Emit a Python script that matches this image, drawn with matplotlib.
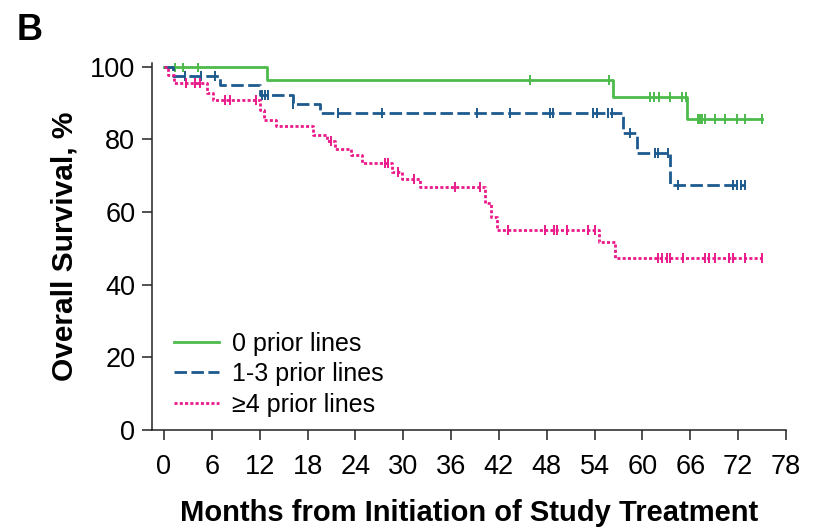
import matplotlib
matplotlib.use("Agg")
import matplotlib.pyplot as plt
import numpy as np

plt.rcParams['font.family'] = ['Liberation Sans', 'DejaVu Sans']

# ---- data (months, overall survival %) ----
g_times = [0, 12.9, 56.3, 65.6, 75.0]
g_surv = [100, 96.2, 91.7, 85.6, 85.6]
g_cens = [1.4, 2.4, 4.3, 45.9, 55.8, 60.9, 61.5, 62.1, 63.5, 65.0, 65.4,
          67.0, 67.2, 67.5, 67.8, 69.1, 70.3, 71.8, 72.9, 75.0]

b_times = [0, 1.1, 7.0, 12.0, 16.2, 19.6, 57.5, 59.3, 63.5, 72.8]
b_surv = [100, 97.4, 94.9, 92.2, 89.6, 87.2, 81.7, 76.2, 67.4, 67.4]
b_cens = [2.6, 4.7, 6.4, 12.3, 12.7, 13.1, 16.2, 21.8, 27.3, 39.2, 43.4,
          48.4, 48.8, 53.8, 54.3, 55.7, 56.2, 58.5, 61.6, 61.9, 63.2, 64.4,
          71.4, 71.8, 72.3, 72.8]

p_times = [0, 0.5, 1.3, 5.4, 6.2, 12.0, 12.5, 14.1, 18.7, 20.4, 21.5, 23.5,
           24.8, 28.6, 29.8, 32.1, 40.2, 41.0, 41.7, 54.5, 56.6, 75.0]
p_surv = [100, 97.7, 95.4, 92.8, 90.8, 88.1, 85.3, 83.6, 81.3, 79.4, 77.3,
          75.6, 73.4, 71.1, 69.2, 67.0, 62.5, 58.6, 55.0, 51.7, 47.3, 47.3]
p_cens = [2.8, 3.9, 4.5, 7.7, 8.3, 11.6, 20.9, 27.7, 28.1, 29.4, 31.3, 36.5,
          39.6, 43.2, 47.8, 48.9, 49.3, 50.6, 53.2, 54.1, 61.9, 62.5, 63.1,
          63.5, 65.1, 67.9, 68.3, 69.1, 70.8, 71.3, 72.9, 75.0]

labels = ['0 prior lines', '1-3 prior lines', '\u22654 prior lines']
x_ticks = list(range(0, 79, 6))
y_ticks = [0, 20, 40, 60, 80, 100]

colors = ['#4cbb4c', '#1d5a8e', '#ea1a8a']
styles = ['-', (0, (4.5, 1.6)), (0, (1.1, 0.8))]

fig = plt.figure(figsize=(8.15, 5.29), dpi=100)
ax = fig.add_axes([0.1865, 0.1871, 0.7779, 0.6938])


def step_val(times, surv, t):
    idx = np.searchsorted(times, t, side='right') - 1
    return np.asarray(surv)[idx]


groups = [(g_times, g_surv, g_cens), (b_times, b_surv, b_cens),
          (p_times, p_surv, p_cens)]
handles = []
for (t, s, c), col, ls, lab in zip(groups, colors, styles, labels):
    h, = ax.step(t, s, where='post', color=col, lw=2.0, linestyle=ls,
                 label=lab)
    handles.append(h)
    cy = step_val(t, s, np.array(c))
    ax.plot(c, cy, linestyle='none', marker='|', markersize=7.5,
            markeredgewidth=1.4, color=col)

ax.set_xlim(-1.5, 78)
ax.set_ylim(0, 101)
ax.set_xticks(x_ticks)
ax.set_yticks(y_ticks)
ax.spines['top'].set_visible(False)
ax.spines['right'].set_visible(False)
for sp in ['left', 'bottom']:
    ax.spines[sp].set_linewidth(1.1)
    ax.spines[sp].set_color('#222222')
ax.tick_params(axis='both', direction='out', length=7, width=1.1,
               color='#222222', labelsize=19.5)
ax.tick_params(axis='x', pad=10)
ax.tick_params(axis='y', pad=5)

ax.set_xlabel('Months from Initiation of Study Treatment', fontsize=21,
              fontweight='bold', labelpad=14)
ax.set_ylabel('Overall Survival, %', fontsize=21.5, fontweight='bold',
              labelpad=8)

leg = ax.legend(handles=handles, loc='upper left',
                bbox_to_anchor=(0.035, 0.268), frameon=False, fontsize=18,
                handlelength=1.8, handletextpad=0.5, labelspacing=0.26,
                borderaxespad=0, borderpad=0)

fig.text(0.021, 0.925, 'B', fontsize=26, fontweight='bold')

fig.savefig('out.png', dpi=100)
